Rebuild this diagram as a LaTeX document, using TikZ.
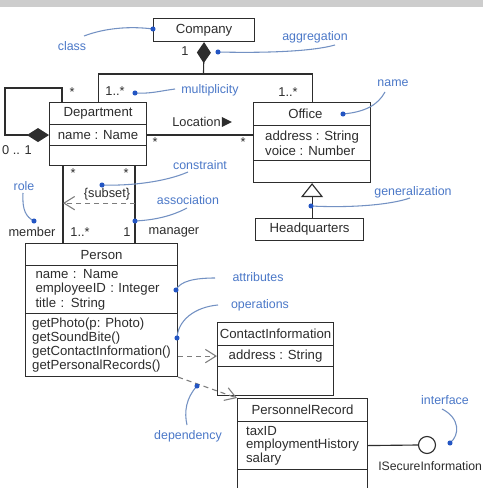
\documentclass[tikz,border=0pt]{standalone}
\usepackage{fontspec}
\setmainfont{Liberation Sans}
\usetikzlibrary{arrows.meta,calc}
\definecolor{ink}{RGB}{45,45,45}
\definecolor{lblue}{RGB}{75,120,200}
\definecolor{dotc}{RGB}{35,85,195}
\definecolor{callc}{RGB}{115,145,195}
\definecolor{dashc}{RGB}{125,125,125}
\definecolor{bandc}{RGB}{205,205,205}
\begin{document}
\begin{tikzpicture}[x=0.75pt,y=-0.75pt,
  cls/.style={draw=ink, line width=0.85pt, fill=white, inner sep=0pt, anchor=north west, text=ink, font=\fontsize{9.9}{11}\selectfont, align=left},
  ln/.style={draw=ink, line width=0.85pt},
  depline/.style={draw=dashc, line width=0.8pt, dash pattern=on 3.75pt off 3pt, -{Straight Barb[length=8pt,width=10pt]}},
  mult/.style={text=ink, font=\fontsize{9.6}{11}\selectfont, inner sep=0pt},
  note/.style={text=lblue, font=\fontsize{9.3}{11}\selectfont, inner sep=0pt},
  callout/.style={draw=callc, line width=0.8pt},
]
\useasboundingbox (0,0) rectangle (483,488);
\clip (0,0) rectangle (483,488);
\fill[white] (0,0) rectangle (483,488);
\fill[bandc] (0,0) rectangle (483,7);

% classes
\node[cls, minimum width=75.75pt, minimum height=17.25pt] (company) at (153,18) {Company};

\node[cls, minimum width=72.75pt, minimum height=16.5pt] (dept) at (49,102) {Department};
\node[cls, minimum width=72.75pt, minimum height=15.75pt] (deptattr) at (49,124) {name : Name};
\node[cls, minimum width=72.75pt, minimum height=15pt] (deptops) at (49,145) {};

\node[cls, minimum width=87.75pt, minimum height=17.25pt] (office) at (253,102) {Office\hspace{10pt}\mbox{}};
\node[cls, minimum width=87.75pt, minimum height=26.25pt] (officeattr) at (253,125) {address : String\\voice : Number};
\node[cls, minimum width=87.75pt, minimum height=16.5pt] (officeops) at (253,160) {};

\node[cls, minimum width=81pt, minimum height=16.5pt] (hq) at (255,218) {Headquarters};

\node[cls, minimum width=114pt, minimum height=16.5pt] (person) at (25,243) {Person};
\node[cls, minimum width=114pt, minimum height=36pt, inner xsep=7.5pt, text width=99pt] (personattr) at (25,265) {name : Name\\employeeID : Integer\\title : String};
\node[cls, minimum width=114pt, minimum height=47.25pt, font=\fontsize{9.9}{10.5}\selectfont] (personops) at (25,313) {getPhoto(p: Photo)\\getSoundBite()\\getContactInformation()\\getPersonalRecords()};

\node[cls, minimum width=87pt, minimum height=17.25pt] (ci) at (217,322) {ContactInformation};
\node[cls, minimum width=87pt, minimum height=15.75pt] (ciattr) at (217,345) {address : String};
\node[cls, minimum width=87pt, minimum height=21.75pt] (ciops) at (217,366) {};

\node[cls, minimum width=97.5pt, minimum height=17.25pt] (pr) at (237,398) {PersonnelRecord};
\node[cls, minimum width=97.5pt, minimum height=36pt, font=\fontsize{9.9}{10.2}\selectfont] (prattr) at (237,421) {taxID\\employmentHistory\\salary};
\node[cls, minimum width=97.5pt, minimum height=22.5pt] (props) at (237,469) {};

% interface
\node[draw=ink, line width=0.85pt, circle, minimum size=12.75pt, inner sep=0pt, fill=white] (iface) at (427,445) {};
\draw[ln] (prattr.east) -- (iface.west);
\node[mult, anchor=west, font=\fontsize{9.2}{11}\selectfont] (isec) at (378,466) {ISecureInformation};

% aggregation Company
\coordinate (j) at (203.5,74);
\draw[ln, {Diamond[length=15.75pt,width=10.5pt]}-] (company.south) -- (j);
\draw[ln] (dept.north) |- (j) -| (office.north);

% self loop
\coordinate (loopend) at ($(dept.north west)+(13,0)$);
\coordinate (looptop) at ($(loopend)+(0,-14)$);
\draw[ln, {Diamond[length=16.5pt,width=10.5pt]}-] (deptattr.west) -- ++(-44,0) |- (looptop) -- (loopend);

% Location
\draw[ln] (deptattr.east) -- (deptattr.east -| officeattr.west);
\node[mult, anchor=west] (loc) at (172,122) {Location};
\fill[ink] ($(loc.east)+(1,-5)$) -- ++(10,5) -- ++(-10,5) -- cycle;

% Department - Person
\coordinate (dpl) at ($(deptops.south west)+(14,0)$);
\coordinate (dpr) at ($(deptops.south west)+(86,0)$);
\draw[ln] (dpl) -- (dpl |- person.north);
\draw[ln] (dpr) -- (dpr |- person.north);
\coordinate (sub1) at ($(dpr)+(0,37)$);
\coordinate (sub2) at ($(dpl)+(0,37)$);
\draw[depline] (sub1) -- (sub2);

% generalization
\draw[ln, {Triangle[open,length=10.5pt,width=16.5pt]}-] (officeops.south) -- (officeops.south |- hq.north);

% dependencies
\draw[depline] (personops.east |- ciattr.west) -- (ciattr.west);
\draw[depline] (personops.south east) -- (pr.north west);

% multiplicities and roles
\node[mult] (m1) at (185,51) {1};
\node[mult] (m2) at (115,91) {1..*};
\node[mult] (m3) at (288,92) {1..*};
\node[mult] (m4) at (72,92) {*};
\node[mult] (m5) at (17,150) {0 .. 1};
\node[mult] (m6) at (155,142) {*};
\node[mult] (m7) at (243,142) {*};
\node[mult] (m8) at (73,173) {*};
\node[mult] (m9) at (126,173) {*};
\node[mult] (m10) at (80,232) {1..*};
\node[mult] (m11) at (127,232) {1};
\node[mult] (m12) at (32,232) {member};
\node[mult] (m13) at (174,232) {manager};
\node[mult] (m14) at (107,194) {\{subset\}};

% callout labels
\node[note] (nclass) at (72,46) {class};
\node[note] (nagg) at (315,37) {aggregation};
\node[note] (nmult) at (210,90) {multiplicity};
\node[note] (nname) at (393,83) {name};
\node[note] (ncons) at (200,165) {constraint};
\node[note] (nrole) at (24,186) {role};
\node[note] (nassoc) at (188,200) {association};
\node[note] (ngen) at (413,192) {generalization};
\node[note] (nattr) at (258,277) {attributes};
\node[note] (nops) at (260,305) {operations};
\node[note] (ndep) at (188,436) {dependency};
\node[note] (nif) at (445,400) {interface};

% callout dots
\coordinate (dclass) at (153,29);
\coordinate (dagg) at (218,52);
\coordinate (dmult) at (135,93);
\coordinate (dname) at (343,114);
\coordinate (dcons) at (102,185);
\coordinate (drole) at (34,221);
\coordinate (dassoc) at (135,221);
\coordinate (dgen) at (311,206);
\coordinate (dattr) at (176,290);
\coordinate (dops) at (177,338);
\coordinate (ddep) at (197,386);
\coordinate (dif) at (450,443);

\coordinate (eclass) at (84,36);
\coordinate (eagg) at (335,45);
\coordinate (emult) at (175,89);
\coordinate (ename) at (385,92);
\coordinate (econs) at (188,172);
\coordinate (erole) at (23,193);
\coordinate (eassoc) at (187,208);
\coordinate (egen) at (410,198);
\coordinate (eattr) at (215,278);
\coordinate (eops) at (218,305);
\coordinate (edep) at (187,425);
\coordinate (eif) at (442,409);

\draw[callout] (eclass) .. controls (105,28) and (130,26) .. (dclass);
\draw[callout] (dagg) .. controls (260,53) and (310,52) .. (eagg);
\draw[callout] (dmult) .. controls (150,94) and (160,91) .. (emult);
\draw[callout] (dname) .. controls (365,112) and (378,105) .. (ename);
\draw[callout] (dcons) .. controls (130,186) and (165,182) .. (econs);
\draw[callout] (erole) .. controls (22,210) and (26,217) .. (drole);
\draw[callout] (dassoc) .. controls (155,220) and (172,216) .. (eassoc);
\draw[callout] (dgen) .. controls (350,208) and (390,205) .. (egen);
\draw[callout] (dattr) .. controls (180,281) and (195,278) .. (eattr);
\draw[callout] (dops) .. controls (178,320) and (195,307) .. (eops);
\draw[callout] (ddep) .. controls (186,398) and (184,412) .. (edep);
\draw[callout] (eif) .. controls (460,418) and (460,435) .. (dif);

\foreach \d in {dclass,dagg,dmult,dname,dcons,drole,dassoc,dgen,dattr,dops,ddep,dif}
  \fill[dotc] (\d) circle (1.9pt);
\end{tikzpicture}
\end{document}
